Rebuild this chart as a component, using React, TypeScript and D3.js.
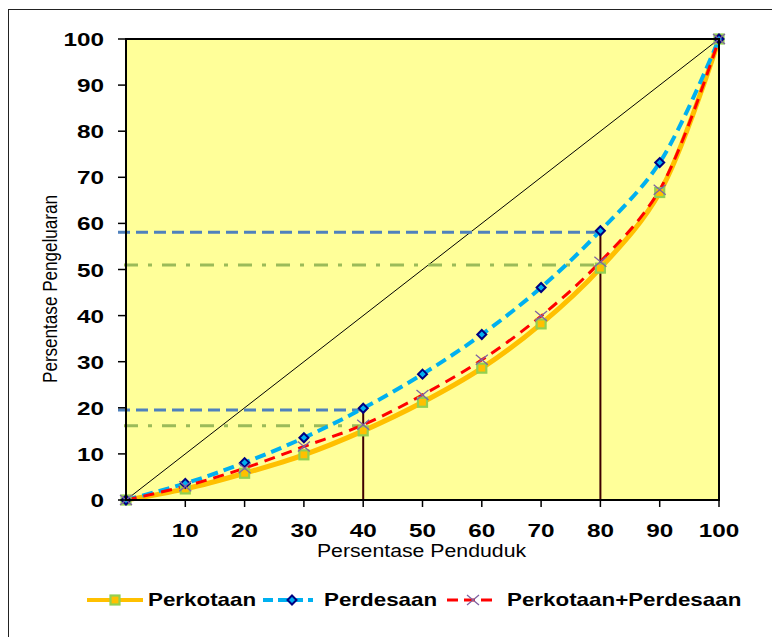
import * as d3 from "d3";

const xVals = [0, 10, 20, 30, 40, 50, 60, 70, 80, 90, 100];
const perkotaan = [0, 2.4, 5.8, 9.8, 15, 21.2, 28.6, 38.2, 50.3, 66.7, 100];
const perdesaan = [0, 3.6, 8.1, 13.5, 19.9, 27.3, 35.9, 46.1, 58.4, 73.2, 100];
const gabungan = [0, 3.0, 6.9, 11.6, 16.3, 22.8, 30.4, 39.9, 51.7, 67.3, 100];
const yTicks = [0, 10, 20, 30, 40, 50, 60, 70, 80, 90, 100];
const xTicks = [10, 20, 30, 40, 50, 60, 70, 80, 90, 100];
// reference lines: [x end, y value]
const desaRefs = [[40, 19.5], [80, 58.1]];
const kotaRefs = [[40, 16.1], [80, 51.0]];
const vertRefs = [[40, 20.5], [80, 59.2]];

const W = 772;
const H = 637;
const margin = { top: 39, right: 53, bottom: 137, left: 126 };
const font = "Arial, 'Liberation Sans', sans-serif";

// text drawn a bit wider than normal, like the original picture
function Wide(props: any) {
  const { x, y, sx = 1.25, children, ...rest } = props;
  return (
    <text transform={`translate(${x},${y}) scale(${sx},1)`} fontFamily={font} fill="#000" {...rest}>
      {children}
    </text>
  );
}

export default function App() {
  const iw = W - margin.left - margin.right;
  const ih = H - margin.top - margin.bottom;
  const x = d3.scaleLinear().domain([0, 100]).range([0, iw]);
  const y = d3.scaleLinear().domain([0, 100]).range([ih, 0]);

  const mk = (vals: number[]) =>
    d3
      .line<number>()
      .x((_, i) => x(xVals[i]))
      .y((d) => y(d))
      .curve(d3.curveCatmullRom.alpha(0.5))(vals) || "";

  const square = (cx: number, cy: number, k: string) => (
    <rect key={k} x={cx - 4.5} y={cy - 4.5} width={9} height={9} fill="#FFC000" stroke="#92D050" strokeWidth={2.2} />
  );
  const diamond = (cx: number, cy: number, k: string) => (
    <path key={k} d={`M${cx},${cy - 4.5}L${cx + 4.5},${cy}L${cx},${cy + 4.5}L${cx - 4.5},${cy}Z`} fill="#00B0F0" stroke="#000080" strokeWidth={2} />
  );
  const cross = (cx: number, cy: number, k: string) => (
    <path key={k} d={`M${cx - 6},${cy - 5}L${cx + 6},${cy + 5}M${cx - 6},${cy + 5}L${cx + 6},${cy - 5}`} stroke="#8064A2" strokeWidth={1.3} fill="none" />
  );

  return (
    <svg width={W} height={H} style={{ display: "block", position: "absolute", left: 0, top: 0 }}>
      <rect x={0} y={0} width={W} height={H} fill="#fff" />
      <rect x={8.5} y={9.5} width={W + 20} height={H + 20} fill="none" stroke="#222" strokeWidth={1} />
      <g transform={`translate(${margin.left},${margin.top})`}>
        <rect x={0} y={0} width={iw} height={ih} fill="#FFFF99" />
        {/* diagonal */}
        <line x1={x(0)} y1={y(0)} x2={x(100)} y2={y(100)} stroke="#000" strokeWidth={1} />
        {/* reference lines */}
        {desaRefs.map(([xe, yv], i) => (
          <line key={"d" + i} x1={-8} x2={x(xe)} y1={y(yv)} y2={y(yv)} stroke="#4F81BD" strokeWidth={3} strokeDasharray="12 6" />
        ))}
        {kotaRefs.map(([xe, yv], i) => (
          <line key={"k" + i} x1={-2} x2={x(xe)} y1={y(yv)} y2={y(yv)} stroke="#9BBB59" strokeWidth={3} strokeDasharray="14 10 4 10" />
        ))}
        {vertRefs.map(([xv, yt], i) => (
          <line key={"v" + i} x1={x(xv)} x2={x(xv)} y1={y(yt)} y2={y(0)} stroke="#3F0000" strokeWidth={2} />
        ))}
        {/* series */}
        <path d={mk(perkotaan)} fill="none" stroke="#FFC000" strokeWidth={5} />
        <path d={mk(perdesaan)} fill="none" stroke="#00B0F0" strokeWidth={4} strokeDasharray="11 6" />
        <path d={mk(gabungan)} fill="none" stroke="#FF0000" strokeWidth={3} strokeDasharray="11 7" />
        {perkotaan.map((v, i) => square(x(xVals[i]), y(v), "s" + i))}
        {perdesaan.map((v, i) => diamond(x(xVals[i]), y(v), "dm" + i))}
        {gabungan.map((v, i) => cross(x(xVals[i]), y(v), "c" + i))}
        {/* frame */}
        <rect x={0} y={0} width={iw} height={ih} fill="none" stroke="#000" strokeWidth={2} />
        {/* y axis */}
        {yTicks.map((t) => (
          <g key={"yt" + t}>
            <line x1={-8} x2={0} y1={y(t)} y2={y(t)} stroke="#000" strokeWidth={1.5} />
            <Wide x={-22} y={y(t) + 7} sx={1.28} textAnchor="end" fontWeight="bold" fontSize={19}>
              {t}
            </Wide>
          </g>
        ))}
        {/* x axis */}
        {xTicks.map((t) => (
          <g key={"xt" + t}>
            <line x1={x(t)} x2={x(t)} y1={ih} y2={ih + 7} stroke="#000" strokeWidth={1.5} />
            <Wide x={x(t)} y={ih + 37} sx={1.28} textAnchor="middle" fontWeight="bold" fontSize={19}>
              {t}
            </Wide>
          </g>
        ))}
        <Wide x={x(50) - 1} y={ih + 57} sx={1.15} textAnchor="middle" fontSize={18.5}>
          Persentase Penduduk
        </Wide>
        <text
          transform={`translate(${-69},${250}) rotate(-90)`}
          textAnchor="middle"
          fontFamily="'Liberation Sans Narrow', 'Arial Narrow', Arial, sans-serif"
          fontSize={20}
          textLength={188}
          lengthAdjust="spacingAndGlyphs"
          fill="#000"
        >
          Persentase Pengeluaran
        </text>
      </g>
      {/* legend */}
      <g>
        <line x1={87} x2={143} y1={600} y2={600} stroke="#FFC000" strokeWidth={4} />
        {square(115, 600, "ls")}
        <Wide x={148} y={606} sx={1.21} fontWeight="bold" fontSize={18.5}>Perkotaan</Wide>
        <line x1={263} x2={313} y1={600} y2={600} stroke="#00B0F0" strokeWidth={4} strokeDasharray="10 5" />
        {diamond(292, 600, "ld")}
        <Wide x={324} y={606} sx={1.21} fontWeight="bold" fontSize={18.5}>Perdesaan</Wide>
        <line x1={447} x2={497} y1={600} y2={600} stroke="#FF0000" strokeWidth={3} strokeDasharray="11 6" />
        {cross(473, 600, "lc")}
        <Wide x={507} y={606} sx={1.21} fontWeight="bold" fontSize={18.5}>Perkotaan+Perdesaan</Wide>
      </g>
    </svg>
  );
}
